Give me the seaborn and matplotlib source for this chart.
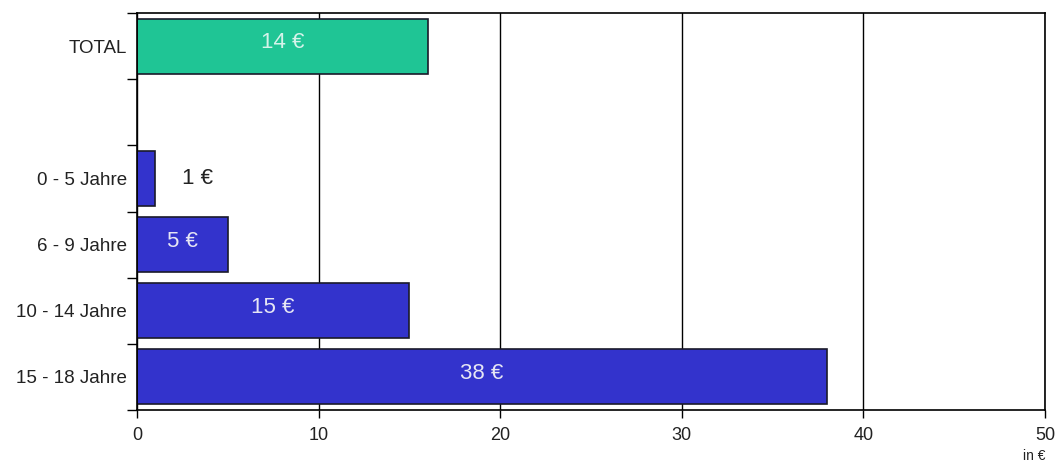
import pandas as pd
import matplotlib.pyplot as plt
import seaborn as sns
from matplotlib.ticker import FixedLocator

# -----------------------------
# Data
# -----------------------------
categories = ["TOTAL", "", "0 - 5 Jahre", "6 - 9 Jahre", "10 - 14 Jahre", "15 - 18 Jahre"]
values = [16, None, 1, 5, 15, 38]
bar_labels = ["14 €", "", "1 €", "5 €", "15 €", "38 €"]
x_ticks = [0, 10, 20, 30, 40, 50]

df = pd.DataFrame({"group": categories, "amount": values})

colors = {c: "#3333CC" for c in categories}
colors["TOTAL"] = "#1FC595"

# -----------------------------
# Plot
# -----------------------------
sns.set_style("white")
plt.rcParams['font.family'] = ['Liberation Sans', 'DejaVu Sans']

fig = plt.figure(figsize=(10.6, 4.75), dpi=100)
ax = fig.add_axes([0.1292, 0.1368, 0.8566, 0.8358])

sns.barplot(data=df, y="group", x="amount", hue="group", palette=colors,
            order=categories, orient="h", width=0.83, legend=False, saturation=1,
            edgecolor="#1a1a2a", linewidth=1.2, ax=ax)

ax.set_xlim(0, 50)
ax.set_ylim(len(categories) - 0.5, -0.5)

# vertical gridlines
ax.set_xticks(x_ticks)
ax.xaxis.grid(True, color="black", linewidth=1)
ax.set_axisbelow(True)
ax.tick_params(axis="x", length=6, width=1, color="black", labelsize=13,
               labelcolor="#222222", pad=6, bottom=True)

# y: tick marks on category boundaries, labels at centers
ax.yaxis.set_major_locator(FixedLocator([i - 0.5 for i in range(len(categories) + 1)]))
ax.set_yticklabels([])
ax.yaxis.set_minor_locator(FixedLocator(range(len(categories))))
ax.set_yticklabels(categories, minor=True)
ax.tick_params(axis="y", which="major", length=7, width=1, color="black", left=True)
ax.tick_params(axis="y", which="minor", length=0, labelsize=13.5, labelcolor="#222222", pad=7)

for s in ["left", "bottom", "top", "right"]:
    ax.spines[s].set_visible(True)
    ax.spines[s].set_color("black")
    ax.spines[s].set_linewidth(1.2)

ax.set_xlabel("")
ax.set_ylabel("")

# value labels
for i, (v, lab) in enumerate(zip(values, bar_labels)):
    if v is None or lab == "":
        continue
    if v < 3:
        ax.text(v + 1.5, i, lab, ha="left", va="center", fontsize=16, color="#222222")
    else:
        ax.text(v / 2, i - 0.05, lab, ha="center", va="center", fontsize=16,
                color="#d5f3ea" if categories[i] == "TOTAL" else "#e6e6f4")

fig.text(0.986, 0.025, "in €", ha="right", va="bottom", fontsize=10, color="#222222")

plt.savefig("out.png", dpi=100)
